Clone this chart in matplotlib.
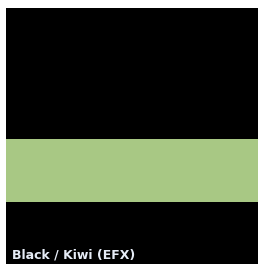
import matplotlib
matplotlib.use("Agg")
import matplotlib.pyplot as plt

# swatch data
label = "Black / Kiwi (EFX)"
layers = ["Black", "Kiwi", "Black"]
layer_colors = ["#000000", "#a8c884", "#000000"]
layer_heights = [131, 63, 62]   # pixel heights of each stripe, top to bottom

fig = plt.figure(figsize=(2.58, 2.64), dpi=100)
fig.patch.set_facecolor("white")
ax = fig.add_axes([6 / 258, 0, 252 / 258, 256 / 264])

bottom = 0
for name, c, h in zip(layers, layer_colors, layer_heights):
    ax.barh(bottom, 1, height=h, left=0, align="edge", color=c, linewidth=0)
    bottom += h

ax.set_xlim(0, 1)
ax.set_ylim(sum(layer_heights), 0)
ax.axis("off")

ax.text(6 / 252, 5 / 256, label, transform=ax.transAxes, color="#e6ecf6",
        fontsize=9, fontweight="bold", ha="left", va="baseline")

fig.savefig("out.png", dpi=100, facecolor="white")
